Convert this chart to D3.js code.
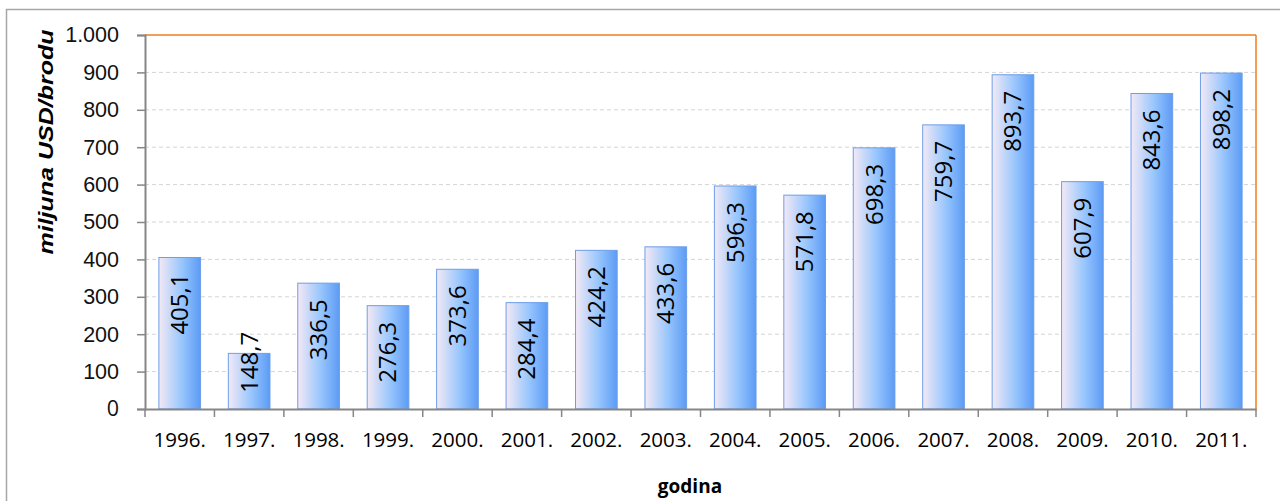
<!DOCTYPE html>
<html>
<head>
<meta charset="utf-8">
<script src="https://cdn.jsdelivr.net/npm/d3@7"></script>
<style>
  body { margin: 0; background: #fff; }
  svg { display: block; }
</style>
</head>
<body>
<svg id="chart"></svg>
<script>
// data
var years = ["1996.", "1997.", "1998.", "1999.", "2000.", "2001.", "2002.", "2003.",
             "2004.", "2005.", "2006.", "2007.", "2008.", "2009.", "2010.", "2011."];
var values = [405.1, 148.7, 336.5, 276.3, 373.6, 284.4, 424.2, 433.6,
              596.3, 571.8, 698.3, 759.7, 893.7, 607.9, 843.6, 898.2];
var yTicks = [0, 100, 200, 300, 400, 500, 600, 700, 800, 900, 1000];

var w = 1280, h = 501;
var plotL = 145, plotR = 1256, plotT = 35, plotB = 409;

var svg = d3.select("#chart").attr("width", w).attr("height", h);

// gradient for bars
var defs = svg.append("defs");
var grad = defs.append("linearGradient").attr("id", "barGrad")
    .attr("x1", "0%").attr("x2", "100%").attr("y1", "0%").attr("y2", "0%");
grad.append("stop").attr("offset", "0%").attr("stop-color", "#f3e9f5");
grad.append("stop").attr("offset", "55%").attr("stop-color", "#98c6fd");
grad.append("stop").attr("offset", "100%").attr("stop-color", "#5c9bf5");

// outer frame
svg.append("rect")
    .attr("x", 6.5).attr("y", 9.5)
    .attr("width", 1400).attr("height", 600)
    .attr("fill", "none").attr("stroke", "#a6a6a6").attr("stroke-width", 1.5);

var x = d3.scaleBand().domain(years).range([plotL, plotR])
    .paddingInner(0.4).paddingOuter(0.2);
var y = d3.scaleLinear().domain([0, 1000]).range([plotB, plotT]);

// gridlines
svg.append("g").selectAll("line")
    .data(yTicks.filter(function(d) { return d > 0 && d < 1000; }))
    .enter().append("line")
    .attr("x1", plotL).attr("x2", plotR)
    .attr("y1", function(d) { return y(d); })
    .attr("y2", function(d) { return y(d); })
    .attr("stroke", "#d4d4d4").attr("stroke-width", 1)
    .attr("stroke-dasharray", "4,3");

// orange border top + right
svg.append("line").attr("x1", plotL).attr("x2", plotR).attr("y1", plotT).attr("y2", plotT)
    .attr("stroke", "#f07d1d").attr("stroke-width", 1.5);
svg.append("line").attr("x1", plotR).attr("x2", plotR).attr("y1", plotT).attr("y2", plotB)
    .attr("stroke", "#f07d1d").attr("stroke-width", 1.5);

// bars
svg.append("g").selectAll("rect")
    .data(values)
    .enter().append("rect")
    .attr("x", function(d, i) { return x(years[i]); })
    .attr("y", function(d) { return y(d); })
    .attr("width", x.bandwidth())
    .attr("height", function(d) { return plotB - y(d); })
    .attr("fill", "url(#barGrad)")
    .attr("stroke", "#6d9ee8").attr("stroke-width", 1);

// value labels
var labels = svg.append("g").selectAll("text")
    .data(values)
    .enter().append("text")
    .text(function(d) { return d3.format(".1f")(d).replace(".", ","); })
    .attr("font-family", "'Open Sans', sans-serif")
    .attr("font-size", "24px")
    .attr("fill", "#000")
    .attr("text-anchor", "end")
    .attr("dy", "0.35em");
labels.each(function(d, i) {
    var len = this.getComputedTextLength();
    var ty = Math.min(y(d) + 16, plotB - 16 - len);
    var cx = x(years[i]) + x.bandwidth() / 2;
    d3.select(this).attr("transform", "translate(" + cx + "," + ty + ") rotate(-90)");
});

// y axis
var yAxis = d3.axisLeft(y).tickValues(yTicks).tickSize(8).tickPadding(18)
    .tickFormat(function(d) { return d3.format(",")(d).replace(",", "."); });
var gy = svg.append("g").attr("transform", "translate(" + plotL + ",0)").call(yAxis);
gy.select(".domain").attr("stroke", "#868686").attr("stroke-width", 2);
gy.selectAll(".tick line").attr("stroke", "#868686").attr("stroke-width", 1.5);
gy.selectAll(".tick text")
    .attr("font-family", "Arial, 'Liberation Sans', sans-serif")
    .attr("font-size", "21.5px").attr("fill", "#111");
gy.selectAll(".tick text").filter(function(d) { return d === 0; })
    .attr("font-family", "'Open Sans', sans-serif");

// x axis
var xAxis = d3.axisBottom(x).tickSize(0);
var gx = svg.append("g").attr("transform", "translate(0," + plotB + ")").call(xAxis);
gx.select(".domain").attr("stroke", "#868686").attr("stroke-width", 2);
gx.selectAll(".tick text")
    .attr("y", 38).attr("dy", 0)
    .attr("font-family", "'Open Sans', sans-serif")
    .attr("font-size", "20.5px").attr("fill", "#000");
// ticks at band boundaries
var bounds = years.map(function(d) { return x(d) - x.step() * x.paddingInner() / 2; });
bounds.push(plotR);
gx.append("g").selectAll("line")
    .data(bounds).enter().append("line")
    .attr("x1", function(d) { return d; }).attr("x2", function(d) { return d; })
    .attr("y1", 0).attr("y2", 8)
    .attr("stroke", "#868686").attr("stroke-width", 1.5);

// axis titles
svg.append("text")
    .attr("transform", "translate(53,142) rotate(-90)")
    .attr("text-anchor", "middle")
    .attr("font-family", "Arial, 'Liberation Sans', sans-serif")
    .attr("font-size", "21px").attr("font-weight", "bold").attr("font-style", "italic")
    .attr("textLength", 225).attr("lengthAdjust", "spacingAndGlyphs")
    .text("miljuna USD/brodu");

svg.append("text")
    .attr("x", 690).attr("y", 493)
    .attr("text-anchor", "middle")
    .attr("font-family", "'Open Sans', sans-serif")
    .attr("font-size", "19px").attr("font-weight", "bold")
    .text("godina");
</script>
</body>
</html>
